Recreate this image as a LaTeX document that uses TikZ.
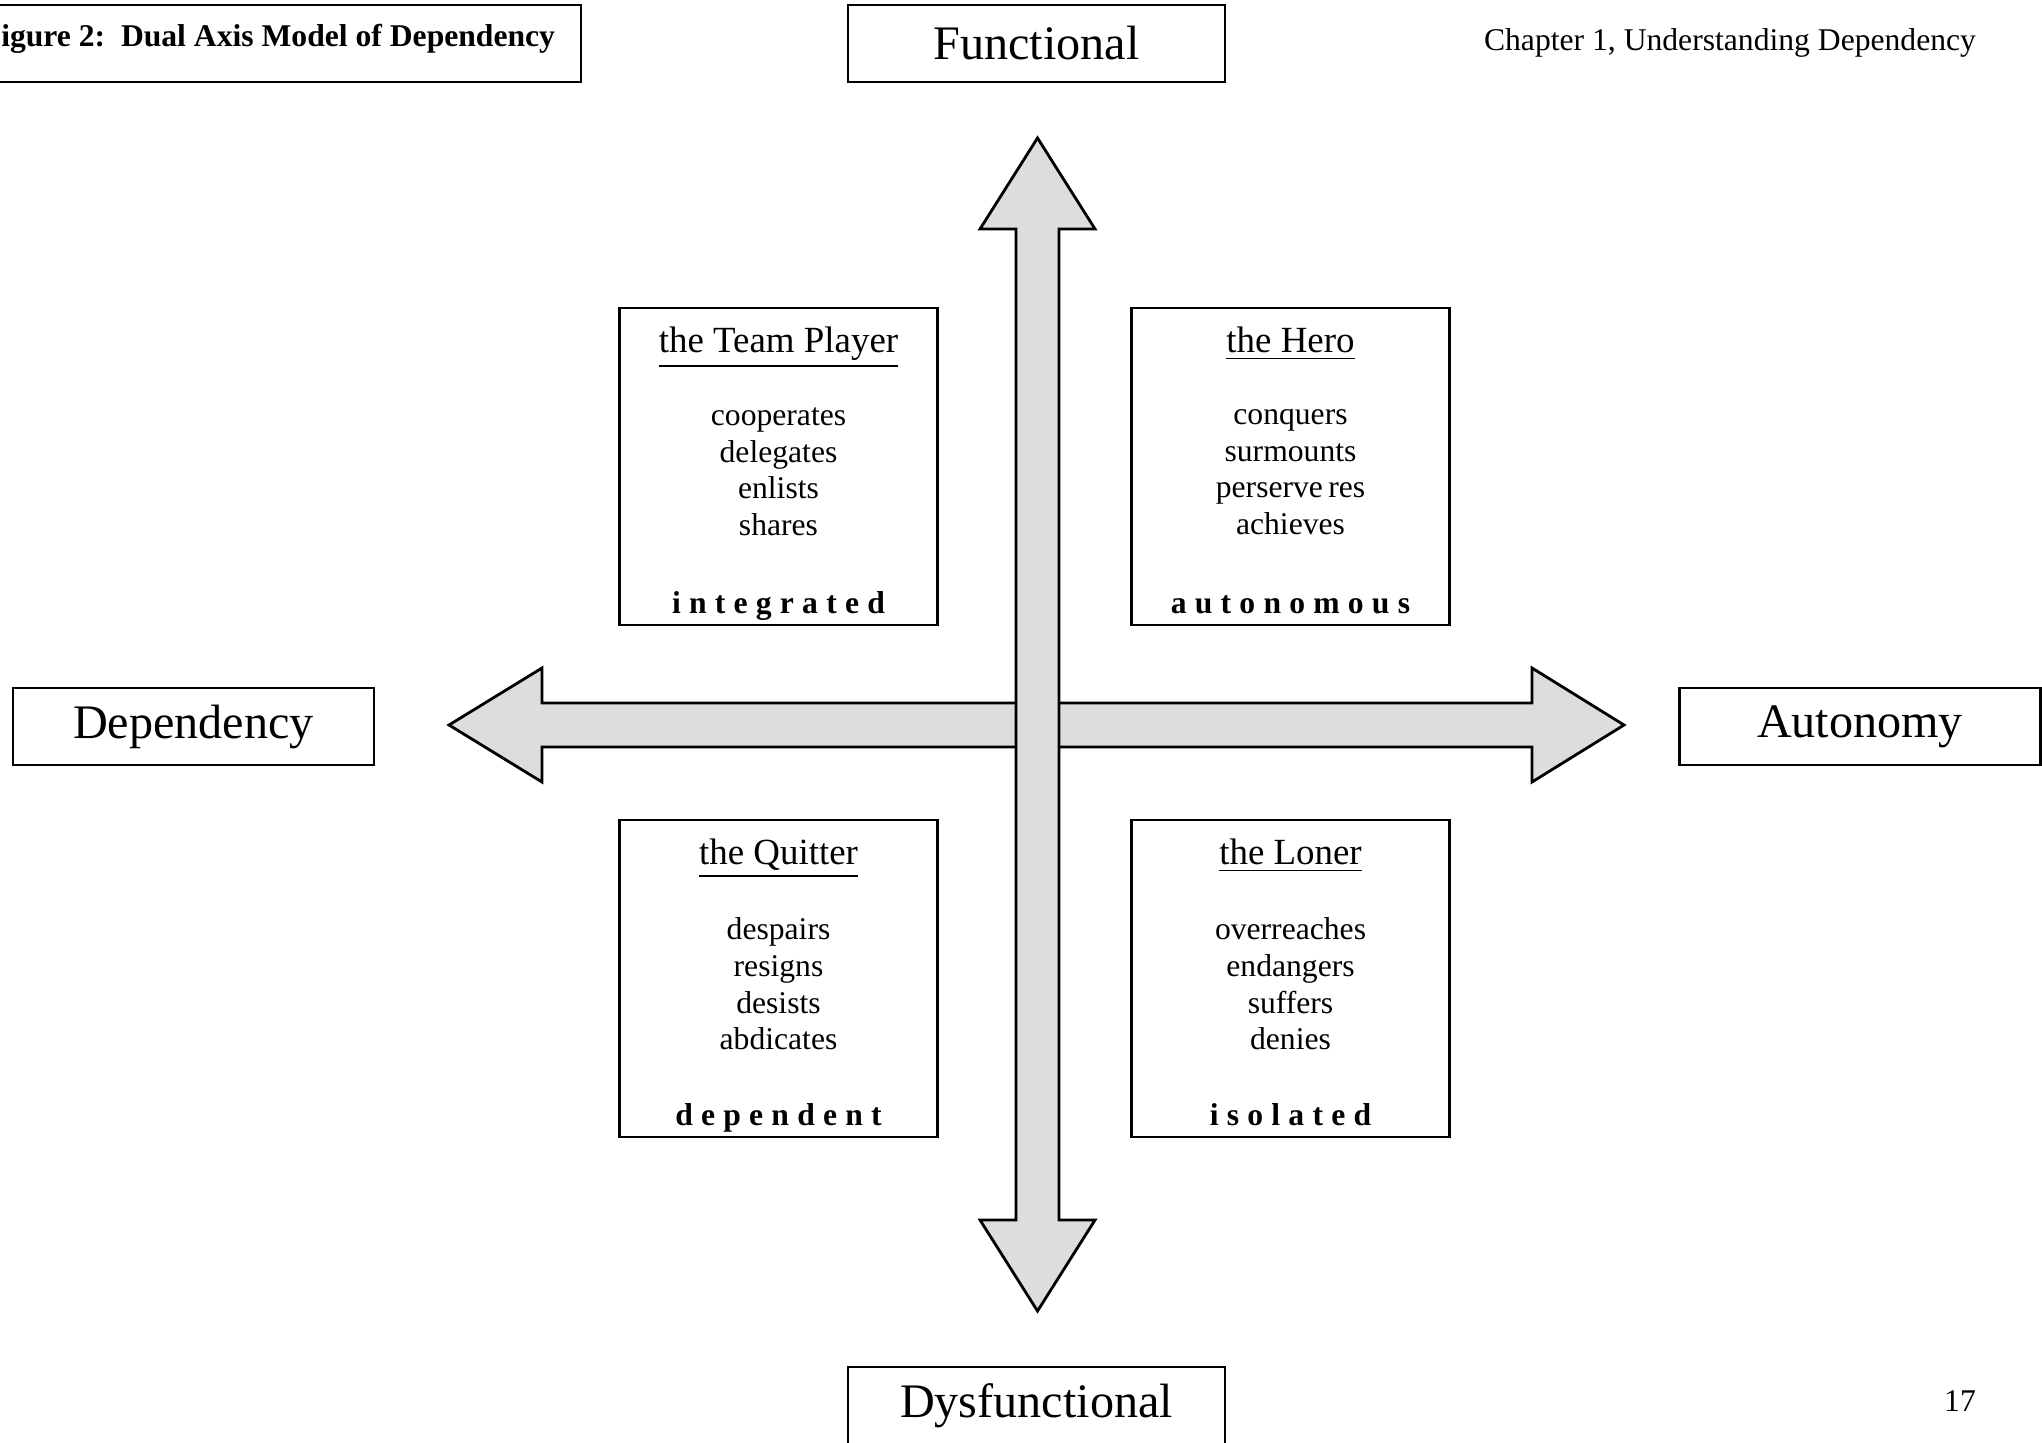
\documentclass[tikz,border=0pt]{standalone}
\usepackage{fontspec}
\setmainfont{Liberation Serif}
\usepackage{tikz}
\definecolor{axisfill}{HTML}{DDDDDD}

\begin{document}
\begin{tikzpicture}[
    axislabel/.style={rectangle, draw, line width=0.6pt, minimum width=3.77cm, minimum height=0.77cm, inner sep=0pt, font=\fontsize{13.7}{16}\selectfont},
    quad/.style={rectangle, draw, line width=0.6pt, minimum width=3.18cm, minimum height=3.17cm},
    qtitle/.style={anchor=base, font=\fontsize{10.5}{12}\selectfont},
    qbody/.style={align=center, inner sep=0pt, font=\fontsize{9}{10.4}\selectfont},
    qword/.style={anchor=base, inner sep=0pt, font=\fontsize{9}{10.4}\selectfont\bfseries\addfontfeature{LetterSpace=26}},
    axis/.style={draw, line width=0.8pt, fill=axisfill, line join=miter},
    small/.style={font=\fontsize{9}{10.4}\selectfont},
]
\useasboundingbox (0,0) rectangle (20.42,14.42);

% Header
\node[rectangle, draw, line width=0.6pt, minimum width=6.31cm, minimum height=0.77cm] (figbox) at (2.655,13.985) {};
\node[small, font=\fontsize{9}{10.4}\selectfont\bfseries] (figtitle) at (2.685,14.03) {Figure 2:\ \ Dual Axis Model of Dependency};
\node[small] (chapter) at (17.30,13.99) {Chapter 1, Understanding Dependency};
\node[small] (pagenum) at (19.60,0.41) {17};

% Axes
\draw[axis] (4.49,7.17) -- (5.42,7.74) -- (5.42,7.39) -- (15.32,7.39) -- (15.32,7.74) -- (16.24,7.17)
    -- (15.32,6.60) -- (15.32,6.95) -- (5.42,6.95) -- (5.42,6.60) -- cycle;
\draw[axis] (10.375,13.04) -- (10.95,12.13) -- (10.59,12.13) -- (10.59,2.22) -- (10.95,2.22) -- (10.375,1.31)
    -- (9.80,2.22) -- (10.16,2.22) -- (10.16,12.13) -- (9.80,12.13) -- cycle;

% Axis labels
\node[axislabel] (functional) at (10.365,13.985) {Functional};
\node[axislabel] (dysfunctional) at (10.365,0.365) {Dysfunctional};
\node[axislabel, minimum width=3.61cm] (dependency) at (1.935,7.155) {Dependency};
\node[axislabel, minimum width=3.61cm] (autonomy) at (18.60,7.155) {Autonomy};

% Quadrants
\node[quad] (team) at (7.785,9.755) {};
\node[qtitle] (teamt) at ([yshift=-0.46cm]team.north) {\underline{the Team Player}};
\node[qbody] (teamb) at ([yshift=-1.65cm]team.north) {cooperates\\delegates\\enlists\\shares};
\node[qword] (teamw) at ([yshift=0.13cm]team.south) {integrated};

\node[quad] (hero) at (12.905,9.755) {};
\node[qtitle] (herot) at ([yshift=-0.46cm]hero.north) {\underline{the Hero}};
\node[qbody] (herob) at ([yshift=-1.65cm]hero.north) {conquers\\surmounts\\perserve\kern1.5pt res\\achieves};
\node[qword] (herow) at ([yshift=0.13cm]hero.south) {autonomous};

\node[quad] (quitter) at (7.785,4.635) {};
\node[qtitle] (quittert) at ([yshift=-0.46cm]quitter.north) {\underline{the Quitter}};
\node[qbody] (quitterb) at ([yshift=-1.65cm]quitter.north) {despairs\\resigns\\desists\\abdicates};
\node[qword] (quitterw) at ([yshift=0.13cm]quitter.south) {dependent};

\node[quad] (loner) at (12.905,4.635) {};
\node[qtitle] (lonert) at ([yshift=-0.46cm]loner.north) {\underline{the Loner}};
\node[qbody] (lonerb) at ([yshift=-1.65cm]loner.north) {overreaches\\endangers\\suffers\\denies};
\node[qword] (lonerw) at ([yshift=0.13cm]loner.south) {isolated};
\end{tikzpicture}
\end{document}
